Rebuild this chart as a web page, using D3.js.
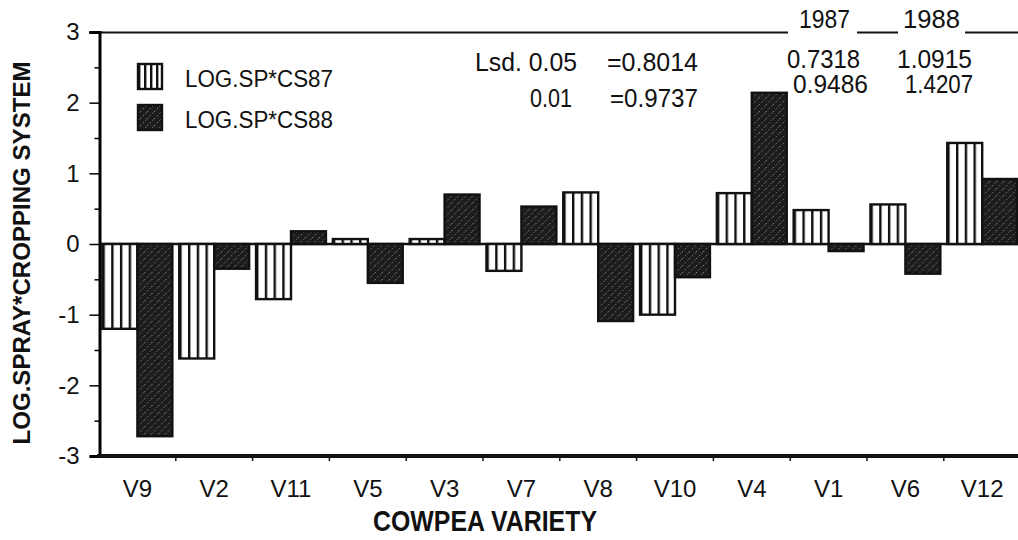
<!DOCTYPE html>
<html>
<head>
<meta charset="utf-8">
<script src="https://cdn.jsdelivr.net/npm/d3@7"></script>
<style>
  body { margin: 0; background: #fff; }
  text { font-family: "Liberation Sans", Arial, sans-serif; fill: #111; }
</style>
</head>
<body>
<script>
// chart values
const varieties = ["V9", "V2", "V11", "V5", "V3", "V7", "V8", "V10", "V4", "V1", "V6", "V12"];
const cs87 = [-1.2, -1.62, -0.78, 0.07, 0.07, -0.38, 0.73, -1.0, 0.72, 0.48, 0.56, 1.43];
const cs88 = [-2.72, -0.35, 0.18, -0.55, 0.7, 0.53, -1.09, -0.47, 2.14, -0.1, -0.42, 0.92];
const seriesNames = ["LOG.SP*CS87", "LOG.SP*CS88"];
const yTicks = [-3, -2, -1, 0, 1, 2, 3];
const yMinorTicks = [-2.5, -1.5, -0.5, 0.5, 1.5, 2.5];

function main() {
    let width = 1018;
    let height = 540;

    let svg = d3.select("body").append("svg")
        .attr("width", width)
        .attr("height", height);

    // patterns: vertical stripes and dark hatch
    let defs = svg.append("defs");
    let stripe = defs.append("pattern")
        .attr("id", "stripe")
        .attr("patternUnits", "objectBoundingBox")
        .attr("patternContentUnits", "userSpaceOnUse")
        .attr("width", 0.25)
        .attr("height", 1);
    stripe.append("rect").attr("width", 100).attr("height", 1000).attr("fill", "#fff");
    stripe.append("line")
        .attr("x1", 1.2).attr("x2", 1.2).attr("y1", 0).attr("y2", 1000)
        .attr("stroke", "#111").attr("stroke-width", 2.4);

    let hatch = defs.append("pattern")
        .attr("id", "hatch")
        .attr("patternUnits", "userSpaceOnUse")
        .attr("width", 7)
        .attr("height", 7);
    hatch.append("rect").attr("width", 7).attr("height", 7).attr("fill", "#1c1c1c");
    hatch.append("path")
        .attr("d", "M0,7 L7,0")
        .attr("stroke", "#8a8a8a")
        .attr("stroke-width", 0.9)
        .attr("stroke-dasharray", "1.6,2.2");

    let fills = ["url(#stripe)", "url(#hatch)"];

    let x0 = d3.scaleBand()
        .domain(varieties)
        .range([99, 1020.6])
        .paddingInner(0.09)
        .paddingOuter(0.045);
    let x1 = d3.scaleBand()
        .domain([0, 1])
        .range([0, x0.bandwidth()]);
    let y = d3.scaleLinear().domain([-3, 3]).range([456, 32]);

    let rows = varieties.map((v, i) => ({ v: v, vals: [cs87[i], cs88[i]] }));

    // top line with year headings
    let topSegs = [[89, 788], [857, 898], [965, 1018]];
    svg.append("g").selectAll("line")
        .data(topSegs)
        .enter()
        .append("line")
        .attr("x1", d => d[0]).attr("x2", d => d[1])
        .attr("y1", y(3) + 0.5).attr("y2", y(3) + 0.5)
        .attr("stroke", "#111").attr("stroke-width", 2);

    // zero line
    svg.append("line")
        .attr("x1", 99).attr("x2", width)
        .attr("y1", y(0)).attr("y2", y(0))
        .attr("stroke", "#111").attr("stroke-width", 2.5);

    // bars
    svg.append("g")
        .selectAll("g")
        .data(rows)
        .enter()
        .append("g")
        .attr("transform", d => "translate(" + x0(d.v) + ",0)")
        .selectAll("rect")
        .data(d => d.vals.map((val, k) => ({ k: k, val: val })))
        .enter()
        .append("rect")
        .attr("x", d => x1(d.k))
        .attr("width", x1.bandwidth())
        .attr("y", d => y(Math.max(0, d.val)))
        .attr("height", d => Math.abs(y(d.val) - y(0)))
        .attr("fill", d => fills[d.k])
        .attr("stroke", "#111")
        .attr("stroke-width", 2.4);

    // y axis
    let yAxis = svg.append("g")
        .attr("transform", "translate(99.5,0)")
        .call(d3.axisLeft(y).tickValues(yTicks).tickSize(10).tickPadding(10)
            .tickFormat(d => String(d)));
    yAxis.select(".domain").attr("stroke-width", 3);
    yAxis.selectAll(".tick line").attr("stroke-width", 1.5);
    yAxis.selectAll("text")
        .attr("font-family", "Liberation Sans, Arial, sans-serif")
        .attr("font-size", 24)
        .attr("fill", "#111");

    svg.append("g")
        .attr("transform", "translate(99.5,0)")
        .call(d3.axisLeft(y).tickValues(yMinorTicks).tickSize(5).tickFormat(""))
        .call(g => g.select(".domain").remove())
        .selectAll(".tick line").attr("stroke-width", 1.5);

    // x axis
    svg.append("line")
        .attr("x1", 97).attr("x2", width)
        .attr("y1", 456).attr("y2", 456)
        .attr("stroke", "#111").attr("stroke-width", 4);

    let outer = x0.step() * x0.paddingOuter();
    svg.append("g").selectAll("line")
        .data(varieties.slice(1))
        .enter()
        .append("line")
        .attr("x1", d => x0(d) - outer).attr("x2", d => x0(d) - outer)
        .attr("y1", 456).attr("y2", 461)
        .attr("stroke", "#111").attr("stroke-width", 1.5);

    let xAxis = svg.append("g")
        .attr("transform", "translate(0,456)")
        .call(d3.axisBottom(x0).tickSize(0).tickPadding(24));
    xAxis.select(".domain").remove();
    xAxis.selectAll("text")
        .attr("font-family", "Liberation Sans, Arial, sans-serif")
        .attr("font-size", 24)
        .attr("fill", "#111");

    // axis titles
    svg.append("text")
        .attr("transform", "translate(30,253) rotate(-90)")
        .attr("text-anchor", "middle")
        .attr("font-family", "DejaVu Sans, sans-serif")
        .attr("font-size", 24)
        .attr("font-weight", "bold")
        .attr("textLength", 383)
        .attr("lengthAdjust", "spacingAndGlyphs")
        .text("LOG.SPRAY*CROPPING SYSTEM");

    svg.append("text")
        .attr("x", 485)
        .attr("y", 531)
        .attr("text-anchor", "middle")
        .attr("font-family", "DejaVu Sans, sans-serif")
        .attr("font-size", 30)
        .attr("font-weight", "bold")
        .attr("textLength", 224)
        .attr("lengthAdjust", "spacingAndGlyphs")
        .text("COWPEA VARIETY");

    // legend
    let legend = svg.append("g");
    let legY = [64, 105];
    legend.selectAll("rect")
        .data(seriesNames)
        .enter()
        .append("rect")
        .attr("x", 138)
        .attr("y", (d, i) => legY[i])
        .attr("width", 24)
        .attr("height", 25)
        .attr("fill", (d, i) => fills[i])
        .attr("stroke", "#111")
        .attr("stroke-width", 2.4);
    legend.selectAll("text")
        .data(seriesNames)
        .enter()
        .append("text")
        .attr("x", 185)
        .attr("y", (d, i) => legY[i] + 23)
        .attr("font-size", 23)
        .attr("textLength", 148)
        .attr("lengthAdjust", "spacingAndGlyphs")
        .text(d => d);

    // lsd annotations
    let notes = [
        ["Lsd. 0.05", 475, 71, 102],
        ["=0.8014", 607, 71, 91],
        ["0.01", 530, 107, 42],
        ["=0.9737", 610, 107, 88],
        ["1987", 799, 28, 51],
        ["1988", 903, 28, 57],
        ["0.7318", 787, 68, 73],
        ["1.0915", 897, 68, 75],
        ["0.9486", 793, 93, 75],
        ["1.4207", 905, 93, 68]
    ];
    svg.append("g").selectAll("text")
        .data(notes)
        .enter()
        .append("text")
        .attr("x", d => d[1])
        .attr("y", d => d[2])
        .attr("font-size", 25)
        .attr("textLength", d => d[3])
        .attr("lengthAdjust", "spacingAndGlyphs")
        .text(d => d[0]);
}

main();
</script>
</body>
</html>
